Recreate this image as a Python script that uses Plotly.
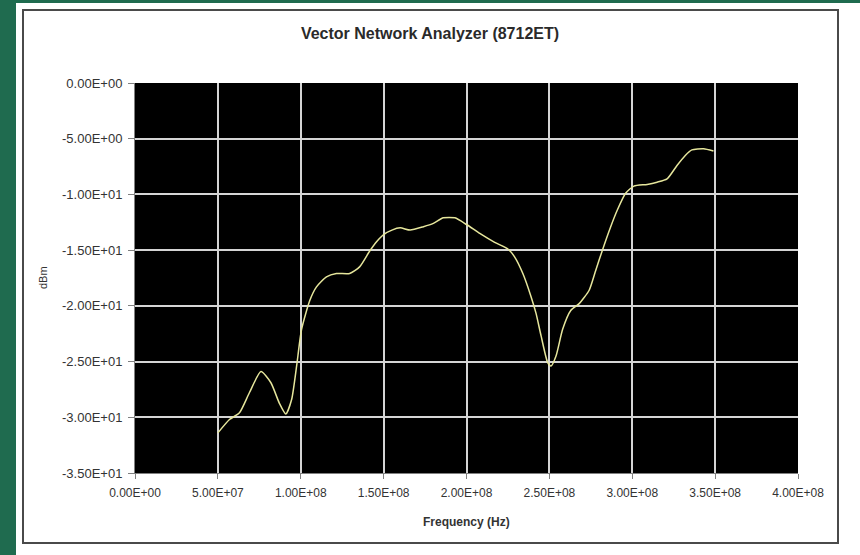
import plotly.graph_objects as go

# ---- data ----
freq_hz = [5.0e7, 5.7e7, 6.3e7, 6.9e7, 7.6e7, 8.2e7, 8.7e7, 9.1e7, 9.45e7, 9.75e7,
           1.005e8, 1.055e8, 1.095e8, 1.155e8, 1.215e8, 1.295e8, 1.355e8, 1.415e8, 1.46e8, 1.5e8,
           1.55e8, 1.6e8, 1.66e8, 1.74e8, 1.80e8, 1.86e8, 1.93e8, 2.0e8, 2.08e8, 2.17e8,
           2.25e8, 2.29e8, 2.34e8, 2.39e8, 2.42e8, 2.45e8, 2.49e8, 2.51e8, 2.54e8, 2.58e8,
           2.63e8, 2.68e8, 2.74e8, 2.78e8, 2.82e8, 2.87e8, 2.91e8, 2.96e8, 3.01e8, 3.09e8,
           3.15e8, 3.21e8, 3.27e8, 3.32e8, 3.36e8, 3.43e8, 3.49e8]
level_dbm = [-31.4, -30.2, -29.6, -27.8, -25.9, -26.9, -28.7, -29.7, -28.4, -25.4,
             -22.1, -19.5, -18.3, -17.4, -17.1, -17.1, -16.5, -15.1, -14.2, -13.6,
             -13.2, -13.0, -13.2, -12.9, -12.6, -12.1, -12.1, -12.7, -13.5, -14.3,
             -14.9, -15.6, -17.1, -19.2, -20.7, -22.7, -25.1, -25.4, -24.5, -22.1,
             -20.4, -19.8, -18.6, -16.8, -15.0, -12.9, -11.4, -9.9, -9.25, -9.1,
             -8.9, -8.6, -7.4, -6.5, -6.0, -5.9, -6.1]

x_tick_vals = [0, 5e7, 1e8, 1.5e8, 2e8, 2.5e8, 3e8, 3.5e8, 4e8]
x_tick_labels = ["0.00E+00", "5.00E+07", "1.00E+08", "1.50E+08", "2.00E+08",
                 "2.50E+08", "3.00E+08", "3.50E+08", "4.00E+08"]
y_tick_vals = [0, -5, -10, -15, -20, -25, -30, -35]
y_tick_labels = ["0.00E+00", "-5.00E+00", "-1.00E+01", "-1.50E+01", "-2.00E+01",
                 "-2.50E+01", "-3.00E+01", "-3.50E+01"]

title_text = "Vector Network Analyzer (8712ET)"
x_title = "Frequency (Hz)"
y_title = "dBm"

# ---- layout geometry (pixels) ----
W, H = 860, 555
L, R, T, B = 135, 62, 83, 82
pw, ph = W - L - R, H - T - B


def px_x(p):
    return (p - L) / pw


def px_y(p):
    return (H - B - p) / ph


GREEN = "#1f6b4f"

fig = go.Figure()
fig.add_trace(go.Scatter(
    x=freq_hz, y=level_dbm, mode="lines",
    line=dict(color="#e6e69c", width=1.5, shape="spline", smoothing=0.6),
    showlegend=False, hoverinfo="skip"))

font_main = "Liberation Sans, Arial, sans-serif"

fig.update_layout(
    width=W, height=H,
    margin=dict(l=L, r=R, t=T, b=B, pad=0),
    paper_bgcolor="#ffffff",
    plot_bgcolor="#000000",
    font=dict(family=font_main, color="#333333", size=12),
    title=dict(text="<b>" + title_text + "</b>", x=0.5, xref="container", xanchor="center",
               y=1 - 33 / H, yref="container", yanchor="middle",
               font=dict(size=16, color="#2a2a2a", family=font_main)),
    xaxis=dict(range=[0, 4e8], tickvals=x_tick_vals, ticktext=x_tick_labels,
               showgrid=True, gridcolor="#d4d4d4", gridwidth=2, zeroline=False,
               showline=True, linecolor="#808080", linewidth=1,
               ticks="outside", ticklen=5, tickcolor="#808080",
               ticklabelstandoff=4,
               tickfont=dict(size=12, color="#333333"), fixedrange=True),
    yaxis=dict(range=[-35, 0], tickvals=y_tick_vals, ticktext=y_tick_labels,
               showgrid=True, gridcolor="#d4d4d4", gridwidth=2, zeroline=False,
               showline=True, linecolor="#808080", linewidth=1,
               ticks="outside", ticklen=6, tickcolor="#808080",
               ticklabelstandoff=3,
               tickfont=dict(size=13, color="#333333"), fixedrange=True),
    shapes=[
        # green strips around the white chart sheet
        dict(type="rect", xref="paper", yref="paper", layer="below",
             x0=px_x(-5), x1=px_x(16), y0=px_y(H + 5), y1=px_y(-5),
             fillcolor=GREEN, line=dict(width=0)),
        dict(type="rect", xref="paper", yref="paper", layer="below",
             x0=px_x(-5), x1=px_x(W + 5), y0=px_y(3), y1=px_y(-5),
             fillcolor=GREEN, line=dict(width=0)),
        # chart border
        dict(type="rect", xref="paper", yref="paper", layer="below",
             x0=px_x(23), x1=px_x(838), y0=px_y(543), y1=px_y(10),
             fillcolor="rgba(0,0,0,0)", line=dict(color="#4a4a4a", width=2)),
    ],
    annotations=[
        dict(text=y_title, textangle=-90, xref="paper", yref="paper",
             x=px_x(43), y=px_y(278), xanchor="center", yanchor="middle",
             showarrow=False,
             font=dict(size=11, color="#333333", family=font_main)),
        dict(text="<b>" + x_title + "</b>", xref="paper", yref="paper",
             x=px_x(466), y=px_y(522), xanchor="center", yanchor="middle",
             showarrow=False,
             font=dict(size=12, color="#333333", family=font_main)),
    ],
)

fig.write_html("out.html")
